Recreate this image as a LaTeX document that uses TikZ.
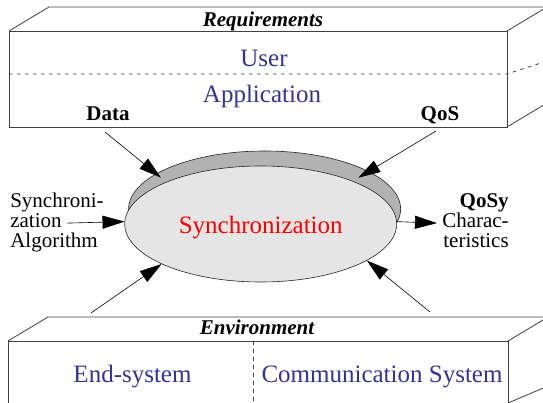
\documentclass[tikz,border=0pt]{standalone}
\usepackage{fontspec}
\setmainfont{Liberation Serif}
\usetikzlibrary{arrows.meta,shapes.geometric,positioning}
\definecolor{layerblue}{RGB}{51,51,153}

\begin{document}
\begin{tikzpicture}[x=1pt,y=-1pt,>={Triangle[length=22pt,width=13pt]},
                    line width=0.6pt]
  \tikzstyle{slab}=[draw=black!75,line width=0.8pt]
  \tikzstyle{divide}=[slab,dash pattern=on 3.5pt off 4.5pt]
  \tikzstyle{facetitle}=[font=\fontsize{21}{25}\selectfont\bfseries\itshape,
                         inner sep=0pt,anchor=base]
  \tikzstyle{layername}=[text=layerblue,font=\fontsize{25}{30}\selectfont,
                         inner sep=0pt,anchor=base]
  \tikzstyle{flowlabel}=[font=\fontsize{21}{25}\selectfont\bfseries,
                         inner sep=0pt,anchor=base]
  \tikzstyle{sideline}=[font=\fontsize{21}{19}\selectfont,text height=14pt,
                        text depth=5pt,inner xsep=5pt,inner ysep=0pt]
  \tikzstyle{disc}=[ellipse,draw=black!85,line width=0.6pt,inner sep=0pt,
                    minimum width=272pt,minimum height=116pt]
  \tikzstyle{flow}=[->,line width=0.6pt]

  \useasboundingbox (0,0) rectangle (543,403);
  \clip (0,0) rectangle (543,403);

  % requirements slab
  \draw[slab] (9,31) rectangle (507,127);
  \draw[slab] (9,31) -- (49,7) -- (547,7) -- (507,31);
  \draw[slab] (507,127) -- (547,103);
  \draw[divide] (9,74) -- (507,74) -- (547,61);

  % environment slab
  \draw[slab] (8,404) -- (8,341) -- (508,341) -- (508,404);
  \draw[slab] (8,341) -- (48,317) -- (548,317) -- (508,341);
  \draw[slab] (508,403) -- (548,386);
  \draw[divide] (253,341) -- (253,404);

  \node[facetitle] (req)     at (263,27)   {Requirements};
  \node[layername] (user)    at (264,66.5) {User};
  \node[layername] (appl)    at (262,103)  {Application};
  \node[flowlabel] (data)    at (108,121)  {Data};
  \node[flowlabel] (qos)     at (440,121)  {QoS};
  \node[facetitle] (env)     at (257,334)  {Environment};
  \node[layername] (endsys)  at (132.5,382) {End-system};
  \node[layername] (commsys) at (382,382)  {Communication System};

  % the synchronization disc
  \node[disc,fill=black!30] (rim)  at (264.6,209) {};
  \node[disc,fill=black!10] (sync) at (260.7,224) {};
  \node[text=red,font=\fontsize{25}{30}\selectfont,inner sep=0pt,anchor=base]
       (synclabel) at ([yshift=-10pt]sync.center) {Synchronization};

  \node[sideline,anchor=base west] (algoa) at (5,208) {Synchroni-};
  \node[sideline,below=0pt of algoa.south west,anchor=north west] (algob) {zation};
  \node[sideline,below=0pt of algob.south west,anchor=north west] (algoc) {Algorithm};
  \node[sideline,anchor=base east] (qosy) at (514,208) {\textbf{QoSy}};
  \node[sideline,below=0pt of qosy.south east,anchor=north east] (charac) {Charac-};
  \node[sideline,below=0pt of charac.south east,anchor=north east] (terist) {teristics};

  \coordinate (dataflow) at (105,132);
  \coordinate (qosflow)  at (436,131);
  \coordinate (endflow)  at (91,313);
  \coordinate (commflow) at (430,312);

  \path (dataflow) edge[flow,shorten >=7pt] (sync.156)
        (qosflow) edge[flow,shorten >=6.5pt] (sync.25)
        (endflow) edge[flow] (sync.202)
        (commflow) edge[flow] (sync.341)
        (algob.east) edge[flow] (sync.179)
        (sync.1) edge[flow] (charac.west);
\end{tikzpicture}
\end{document}
